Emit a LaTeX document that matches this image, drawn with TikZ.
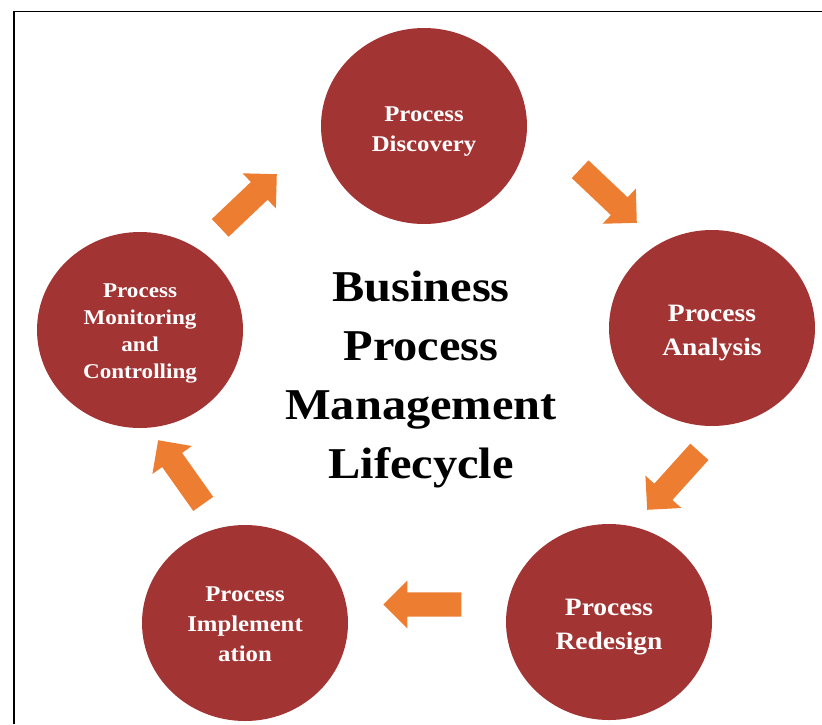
\documentclass[tikz,border=0pt]{standalone}
\usepackage{fontspec}
\setmainfont{Liberation Serif}
\newfontfamily\wideserif{Liberation Serif}[FakeStretch=1.1]
\usetikzlibrary{shapes.geometric,shapes.arrows}
\definecolor{circred}{RGB}{163,52,52}
\definecolor{arroworange}{RGB}{237,125,49}
\begin{document}
\begin{tikzpicture}[x=1pt,y=-1pt,
  phase/.style={ellipse, fill=circred, minimum width=206pt, minimum height=196pt,
    inner sep=0pt},
  phasetext/.style={text=white, align=center, inner sep=0pt},
  cycarrow/.style={single arrow, fill=arroworange, draw=none, inner xsep=0pt,
    inner ysep=12pt, minimum height=78pt, single arrow head extend=12pt,
    single arrow tip angle=90, anchor=tip}]
\useasboundingbox (0,0) rectangle (822,724);
\draw[line width=1.8pt] (14,724) -- (14,11.5) -- (822,11.5);

\node[phase] (disc) at (424,126) {};
\node[phase] (ana) at (712,328) {};
\node[phase] (red) at (609,622) {};
\node[phase] (impl) at (245,623) {};
\node[phase] (mon) at (140,330) {};

\node[phasetext, font=\wideserif\bfseries\fontsize{22.5}{30}\selectfont] (discT) at ([yshift=-6pt]disc.center) {Process\\Discovery};
\node[phasetext, font=\wideserif\bfseries\fontsize{25}{34}\selectfont] (anaT) at ([yshift=-5pt]ana.center) {Process\\Analysis};
\node[phasetext, font=\wideserif\bfseries\fontsize{25}{34}\selectfont] (redT) at ([yshift=-5pt]red.center) {Process\\Redesign};
\node[phasetext, font=\wideserif\bfseries\fontsize{22.5}{30}\selectfont] (implT) at ([yshift=-1pt]impl.center) {Process\\Implement\\ation};
\node[phasetext, font=\wideserif\bfseries\fontsize{21}{27}\selectfont] (monT) at ([yshift=-3pt]mon.center) {Process\\Monitoring\\and\\Controlling};

\node[font=\wideserif\bfseries\fontsize{44}{59}\selectfont, align=center] (title) at (421,379)
  {Business\\Process\\Management\\Lifecycle};

\node[cycarrow, rotate=43.5] (a1) at (277,174) {};
\node[cycarrow, rotate=-43.4] (a2) at (637,223) {};
\node[cycarrow, rotate=-132] (a3) at (647,510) {};
\node[cycarrow, rotate=180] (a4) at (383,604.5) {};
\node[cycarrow, rotate=125.3] (a5) at (158,440) {};
\end{tikzpicture}
\end{document}
